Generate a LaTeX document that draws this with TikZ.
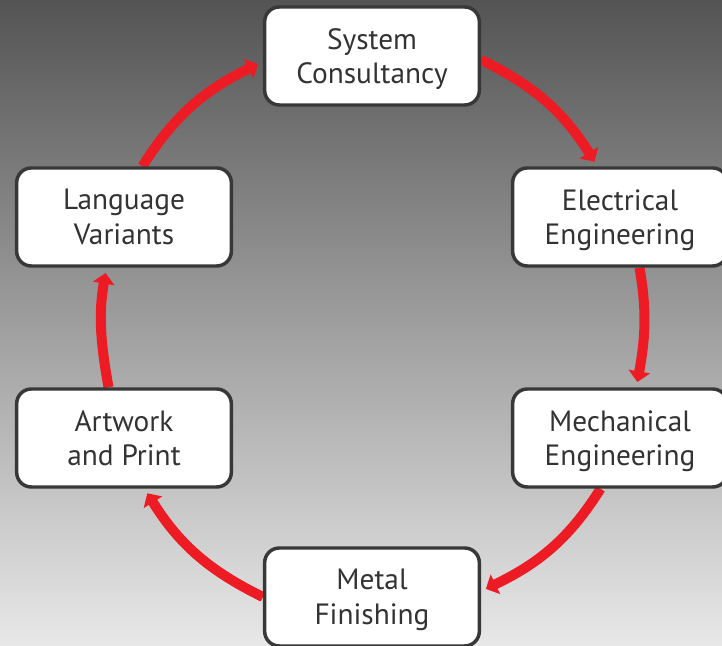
\documentclass[tikz,border=0pt]{standalone}
\usepackage{fontspec}
\setmainfont{PT Sans}
\usetikzlibrary{arrows.meta}
\definecolor{bgtop}{HTML}{545454}
\definecolor{bgbot}{HTML}{E8E8E8}
\definecolor{arrred}{HTML}{ED1C24}
\definecolor{boxline}{HTML}{383838}
\definecolor{txt}{HTML}{333333}
\pgfdeclarelayer{bglayer}
\pgfdeclarelayer{midlayer}
\pgfsetlayers{bglayer,midlayer,main}
\begin{document}
\begin{tikzpicture}[x=0.75pt,y=0.75pt,
  stage/.style={draw=boxline, line width=2.6pt, fill=white, rounded corners=11pt,
    minimum width=161pt, minimum height=73.5pt, align=center, text=txt,
    font=\fontsize{22}{26}\selectfont, inner sep=0pt, text depth=0pt},
  flow/.style={draw=arrred, line width=7.5pt, shorten >=4pt,
    -{Triangle[width=16pt,length=8pt]}}]
\useasboundingbox (0,0) rectangle (722,646);
\clip (0,0) rectangle (722,646);
\begin{pgfonlayer}{bglayer}
\shade[top color=bgtop, bottom color=bgbot] (0,0) rectangle (722,646);
\end{pgfonlayer}
\node[stage] (sc) at (372,590) {System\\Consultancy};
\node[stage] (ee) at (620,429) {Electrical\\Engineering};
\node[stage] (me) at (620,208) {Mechanical\\Engineering};
\node[stage] (mf) at (372,49) {Metal\\Finishing};
\node[stage] (ap) at (124,208) {Artwork\\and Print};
\node[stage] (lv) at (124,429) {Language\\Variants};
\begin{pgfonlayer}{midlayer}
\draw[flow] (sc.-2) to[out=-26,in=122] (ee.114);
\draw[flow] (ee.-69) to[out=-80,in=80] (me.72);
\draw[flow] (me.-111) to[out=-122,in=26] (mf.3);
\draw[flow] (mf.west) to[out=154,in=-58] (ap.-68);
\draw[flow] (ap.107) to[out=100,in=-100] (lv.-109);
\draw[flow] (lv.70) to[out=58,in=-154] (sc.183);
\end{pgfonlayer}
\end{tikzpicture}
\end{document}
